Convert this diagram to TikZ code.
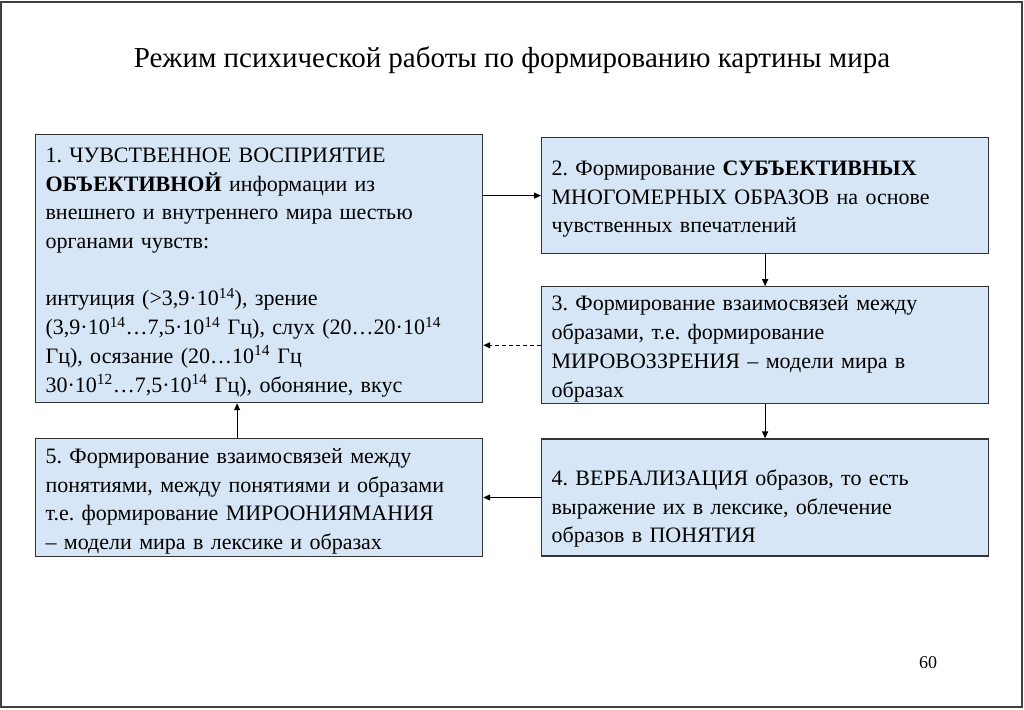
\documentclass[tikz,border=0pt]{standalone}
\usepackage{fontspec}
\setmainfont{Liberation Serif}
\usetikzlibrary{positioning,arrows.meta}
\frenchspacing

\definecolor{stagefill}{RGB}{215,230,246}
\tikzset{
  stage/.style={draw=black!80, line width=1.2pt, fill=stagefill,
    align=left, inner xsep=10pt, inner ysep=0pt, text width=427pt,
    minimum height=#1, font=\fontsize{22}{28.7}\selectfont,
    execute at begin node={\rule{0pt}{22pt}}},
  flow/.style={-{Triangle[length=7pt,width=6pt]}, line width=1pt},
}
\newcommand{\pw}[1]{\textsuperscript{#1}}

\begin{document}
\begin{tikzpicture}[x=1pt,y=-1pt]
   \useasboundingbox (0,0) rectangle (1024,709);
   \draw[line width=1.5pt, black!75] (1,2) rectangle (1022,707);

   \node[anchor=base, font=\fontsize{29}{34}\selectfont] (title) at (512,67)
     {Режим психической работы по формированию картины мира};

   \node[stage=268pt, anchor=north west] (b1) at (35,134)
     {1. ЧУВСТВЕННОЕ ВОСПРИЯТИЕ\\
      \textbf{ОБЪЕКТИВНОЙ} информации из\\
      внешнего и внутреннего мира шестью\\
      органами чувств:\\[28.7pt]
      интуиция (>3,9·10\pw{14}), зрение\\
      (3,9·10\pw{14}…7,5·10\pw{14} Гц), слух (20…20·10\pw{14}\\
      Гц), осязание (20…10\pw{14} Гц\\
      30·10\pw{12}…7,5·10\pw{14} Гц), обоняние, вкус};
   \node[stage=116pt, anchor=north west] (b2) at (541,137)
     {2. Формирование \textbf{СУБЪЕКТИВНЫХ}\\
      МНОГОМЕРНЫХ ОБРАЗОВ на основе\\
      чувственных впечатлений};
   \node[stage=117pt] (b3) [below=32pt of b2]
     {3. Формирование взаимосвязей между\\
      образами, т.е. формирование\\
      МИРОВОЗЗРЕНИЯ – модели мира в\\
      образах};
   % text of this box sits a little low
   \node[stage=117pt] (b4) [below=34pt of b3]
     {\rule{0pt}{38pt}4. ВЕРБАЛИЗАЦИЯ образов, то есть\\
      выражение их в лексике, облечение\\
      образов в ПОНЯТИЯ};
   \node[stage=118pt] (b5) [below=35pt of b1]
     {5. Формирование взаимосвязей между\\
      понятиями, между понятиями и образами\\
      т.е. формирование МИРООНИЯМАНИЯ\\
      – модели мира в лексике и образах};

   \node[anchor=base, font=\fontsize{18}{22}\selectfont] (page) at (928,668) {60};

   \draw[flow] (b1.east |- b2.west) -- (b2.west);
   \draw[flow] (b2.south) -- (b3.north);
   \draw[flow, dash pattern=on 4pt off 3pt] (b3.west) -- (b3.west -| b1.east);
   \draw[flow] (b3.south) -- (b4.north);
   \draw[flow] (b4.west) -- (b4.west -| b5.east);
   % the upward arrow sits left of the middle of the box
   \draw[flow] ([xshift=-22pt]b5.north) -- ([xshift=-22pt]b5.north |- b1.south);
\end{tikzpicture}
\end{document}
